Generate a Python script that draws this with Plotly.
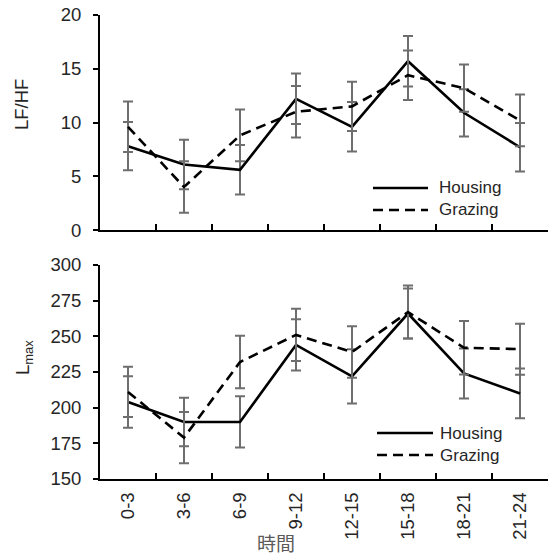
import plotly.graph_objects as go
from plotly.subplots import make_subplots

categories = ["0-3", "3-6", "6-9", "9-12", "12-15", "15-18", "18-21", "21-24"]

lfhf_housing = [7.8, 6.1, 5.6, 12.2, 9.6, 15.7, 10.9, 7.7]
lfhf_housing_err = [2.25, 2.3, 2.3, 2.35, 2.3, 2.35, 2.2, 2.25]
lfhf_grazing = [9.6, 4.0, 8.8, 11.0, 11.5, 14.4, 13.2, 10.2]
lfhf_grazing_err = [2.35, 2.4, 2.4, 2.4, 2.3, 2.3, 2.2, 2.4]

lmax_housing = [204, 190, 190, 244, 222, 266, 224, 210]
lmax_housing_err = [18, 17, 18, 18, 19, 17.5, 17.5, 17.5]
lmax_grazing = [211, 179, 232, 251, 239, 267, 242, 241]
lmax_grazing_err = [17.6, 18, 18.4, 18.3, 18, 18.6, 18.7, 17.9]

series_names = ["Housing", "Grazing"]

FONT = "Liberation Sans, Arial, sans-serif"
TXT = "#262626"
ERR = "#6e6e6e"

fig = make_subplots(rows=2, cols=1, shared_xaxes=False, vertical_spacing=0.0)

def add(row, y, err, dash):
    fig.add_trace(go.Scatter(
        x=categories, y=y, mode="lines",
        line=dict(color="black", width=2.6, dash=dash),
        error_y=dict(type="data", array=err, visible=True, color=ERR,
                     thickness=2, width=5),
        showlegend=False, hoverinfo="skip"), row=row, col=1)

add(1, lfhf_housing, lfhf_housing_err, "solid")
add(1, lfhf_grazing, lfhf_grazing_err, "10px,6px")
add(2, lmax_housing, lmax_housing_err, "solid")
add(2, lmax_grazing, lmax_grazing_err, "10px,6px")

xcommon = dict(type="category", range=[-0.5, 7.5], tickson="boundaries",
               ticks="inside", ticklen=6, tickwidth=2, tickcolor="black",
               showline=True, linecolor="black", linewidth=2,
               showgrid=False, zeroline=False, automargin=False,
               tickfont=dict(family=FONT, size=18.5, color=TXT))
ycommon = dict(ticks="outside", ticklen=5, tickwidth=2, tickcolor="black",
               showline=True, linecolor="black", linewidth=2,
               showgrid=False, zeroline=False, ticklabelstandoff=8, automargin=False,
               tickfont=dict(family=FONT, size=18.5, color=TXT))

fig.update_layout(
    width=553, height=557,
    margin=dict(l=100, r=5, t=15, b=78, autoexpand=False),
    plot_bgcolor="white", paper_bgcolor="white",
    xaxis=dict(**xcommon, showticklabels=False, anchor="y"),
    xaxis2=dict(**xcommon, tickangle=-90, ticklabelstandoff=4, anchor="y2"),
    yaxis=dict(**ycommon, range=[0, 20], dtick=5, domain=[0.5366, 1.0]),
    yaxis2=dict(**ycommon, range=[150, 300], dtick=25, domain=[0.0, 0.4612]),
    showlegend=False,
)

def px_x(p):
    return (p - 100) / 448.0

def px_y(p):
    return (479 - p) / 464.0

annotations = [
    dict(text="LF/HF", x=0, xref="paper", xanchor="center", xshift=-79, y=px_y(105), yref="paper",
         yanchor="middle", textangle=-90, showarrow=False, font=dict(family=FONT, size=18.5, color=TXT)),
    dict(text="L<sub>max</sub>", x=0, xref="paper", xanchor="center", xshift=-76, y=px_y(358), yref="paper",
         yanchor="middle", textangle=-90, showarrow=False, font=dict(family=FONT, size=18.5, color=TXT)),
    dict(text="時間", x=px_x(276), xref="paper", xanchor="center", y=px_y(542), yref="paper",
         yanchor="middle", showarrow=False, font=dict(family="Noto Sans CJK JP", size=19, color="#5a5a5a")),
]
shapes = []
legend_pos = [
    (373, 428, 437, 188, 210),
    (377, 433, 438, 433, 455),
]
for x0, x1, xt, yh, yg in legend_pos:
    for name, yy, dash in [(series_names[0], yh, "solid"), (series_names[1], yg, "10px,6px")]:
        shapes.append(dict(type="line", xref="paper", yref="paper",
                           x0=px_x(x0), x1=px_x(x1), y0=px_y(yy), y1=px_y(yy),
                           line=dict(color="black", width=2.6, dash=dash)))
        annotations.append(dict(text=name, x=px_x(xt), xref="paper", y=px_y(yy), yref="paper",
                                xanchor="left", yanchor="middle", showarrow=False,
                                font=dict(family=FONT, size=17, color=TXT)))

fig.update_layout(annotations=annotations, shapes=shapes)
fig.write_html("out.html", config={"displayModeBar": False},
               post_script="document.body.style.margin='0';")
